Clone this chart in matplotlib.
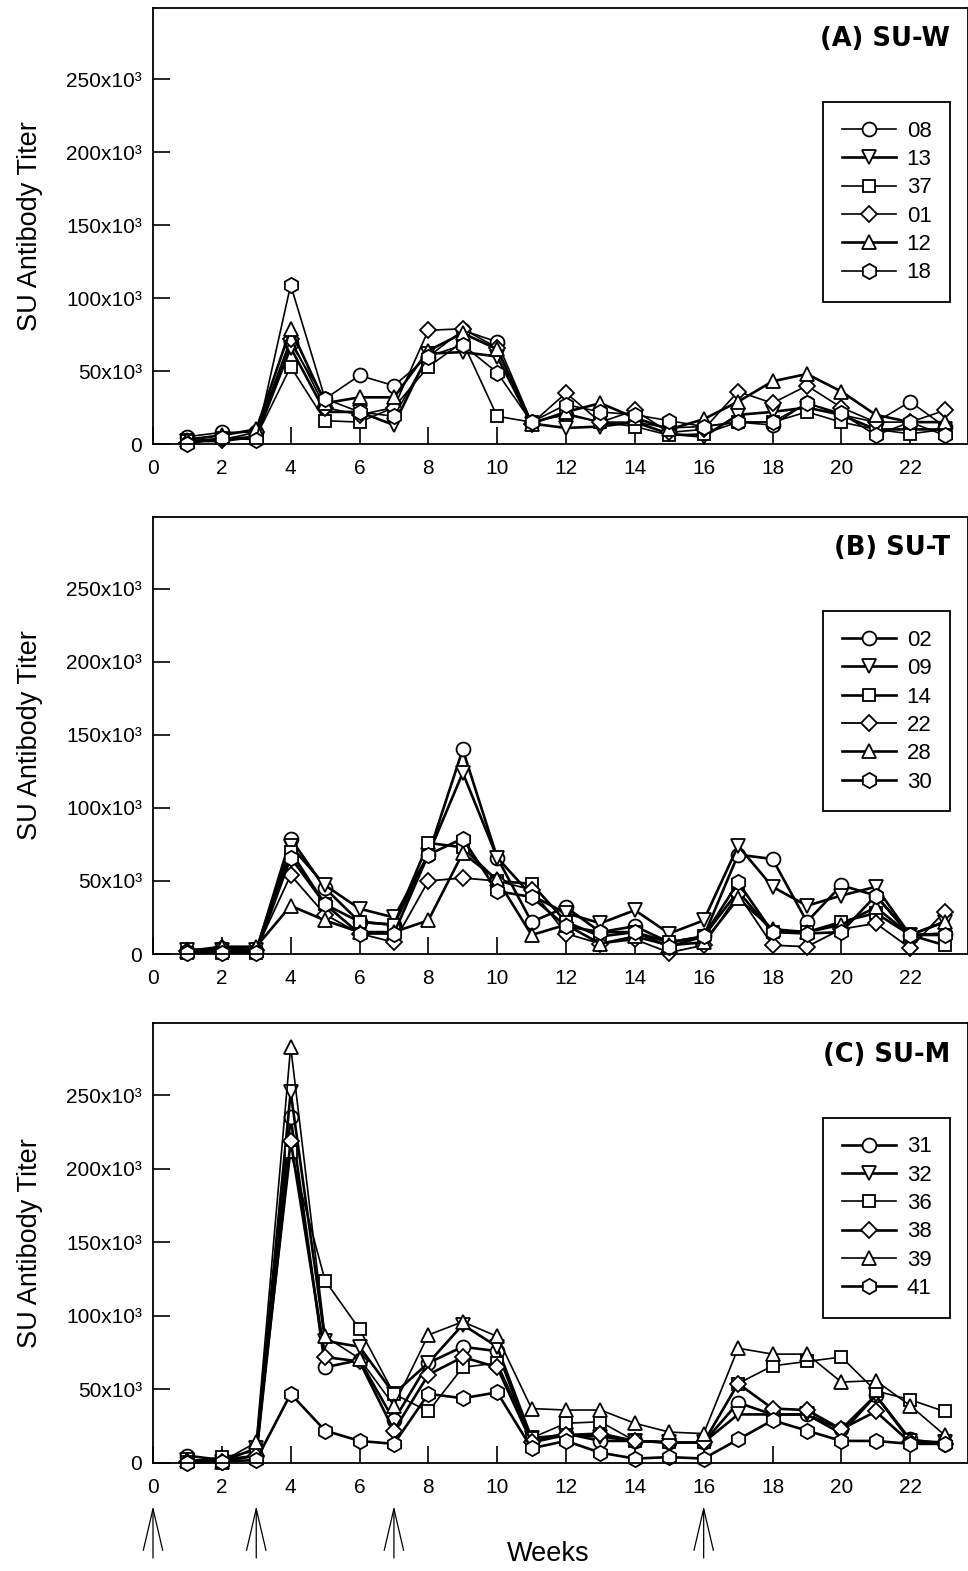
import matplotlib
matplotlib.use('Agg')
import matplotlib.pyplot as plt

# ---------------- data (titer values in units of 10^3) ----------------
weeks = list(range(1, 24))
injection_weeks = [0, 3, 7, 16]
xticks = list(range(0, 23, 2))
yticks = [0, 50, 100, 150, 200, 250]
ytick_labels = ['0', '50x10³', '100x10³', '150x10³', '200x10³', '250x10³']

titleA = '(A) SU-W'
labelsA = ['08', '13', '37', '01', '12', '18']
A_08 = [5, 8, 8, 69, 31, 47, 40, 60, 78, 70, 15, 20, 15, 15, 11, 12, 15, 13, 28, 20, 15, 29, 12]
A_13 = [2, 2, 5, 66, 22, 22, 13, 62, 63, 60, 14, 11, 12, 15, 7, 5, 20, 22, 25, 20, 10, 10, 10]
A_37 = [2, 4, 5, 53, 16, 15, 25, 53, 70, 19, 15, 21, 15, 12, 6, 7, 15, 15, 22, 15, 10, 7, 10]
A_01 = [1, 3, 8, 72, 25, 20, 25, 78, 79, 66, 14, 35, 15, 23, 8, 10, 36, 28, 40, 25, 15, 15, 23]
A_12 = [3, 6, 10, 79, 28, 32, 32, 64, 76, 65, 14, 22, 28, 18, 10, 17, 29, 43, 48, 36, 20, 15, 15]
A_18 = [0, 4, 3, 109, 31, 22, 19, 60, 68, 49, 15, 27, 22, 20, 16, 12, 15, 15, 28, 21, 6, 15, 6]

titleB = '(B) SU-T'
labelsB = ['02', '09', '14', '22', '28', '30']
B_02 = [2, 2, 2, 79, 45, 22, 20, 68, 140, 66, 22, 32, 15, 19, 8, 12, 68, 65, 22, 47, 40, 13, 14]
B_09 = [3, 3, 3, 74, 47, 31, 25, 68, 124, 66, 40, 28, 21, 30, 14, 23, 74, 46, 33, 40, 46, 13, 22]
B_14 = [1, 1, 1, 70, 34, 22, 20, 76, 73, 50, 48, 22, 12, 15, 8, 12, 43, 15, 15, 22, 28, 13, 6]
B_22 = [2, 4, 3, 54, 27, 14, 8, 50, 52, 50, 44, 14, 7, 10, 1, 6, 41, 6, 5, 17, 21, 4, 29]
B_28 = [2, 5, 5, 33, 23, 15, 15, 23, 69, 51, 13, 20, 7, 12, 6, 8, 38, 17, 15, 20, 32, 13, 22]
B_30 = [1, 1, 1, 66, 34, 14, 14, 68, 79, 43, 39, 19, 15, 15, 5, 12, 49, 15, 14, 15, 40, 13, 13]

titleC = '(C) SU-M'
labelsC = ['31', '32', '36', '38', '39', '41']
C_31 = [5, 2, 5, 235, 65, 70, 29, 68, 79, 76, 15, 20, 15, 15, 14, 14, 41, 33, 33, 23, 46, 16, 13]
C_32 = [2, 1, 10, 252, 83, 79, 47, 68, 94, 79, 17, 19, 18, 15, 14, 14, 33, 33, 33, 20, 46, 15, 14]
C_36 = [1, 4, 8, 211, 124, 91, 47, 35, 65, 68, 17, 27, 28, 15, 14, 14, 54, 66, 69, 72, 49, 43, 35]
C_38 = [1, 1, 5, 219, 72, 69, 22, 60, 72, 65, 14, 19, 20, 15, 14, 14, 54, 37, 36, 23, 35, 14, 13]
C_39 = [2, 1, 14, 283, 86, 71, 39, 87, 96, 86, 37, 36, 36, 27, 21, 20, 78, 74, 74, 55, 56, 39, 19]
C_41 = [0, 1, 2, 47, 22, 15, 13, 47, 44, 48, 10, 15, 7, 3, 4, 3, 16, 29, 22, 15, 15, 13, 13]

# ---------------- styles ----------------
markers = ['o', 'v', 's', 'D', '^', 'h']
msizes = [10, 10, 9, 8.5, 10, 11]
lwA = [1.2, 1.9, 1.2, 1.2, 1.9, 1.2]
lwB = [1.9, 1.9, 1.9, 1.3, 1.9, 1.9]
lwC = [1.9, 1.9, 1.2, 1.9, 1.2, 1.9]

plt.rcParams['font.family'] = ['Liberation Sans', 'DejaVu Sans']

fig = plt.figure(figsize=(9.68, 15.71), dpi=100)
W, H = 968.0, 1571.0
left = 153 / W
width = 815 / W
axes_px = [(8, 444), (517, 954), (1023, 1463)]

panels = [
    (titleA, labelsA, [A_08, A_13, A_37, A_01, A_12, A_18], lwA),
    (titleB, labelsB, [B_02, B_09, B_14, B_22, B_28, B_30], lwB),
    (titleC, labelsC, [C_31, C_32, C_36, C_38, C_39, C_41], lwC),
]

axes = []
for (top, bot), (title, labels, series, lws) in zip(axes_px, panels):
    ax = fig.add_axes([left, 1 - bot / H, width, (bot - top) / H])
    axes.append(ax)
    for vals, lab, mk, ms, lw in zip(series, labels, markers, msizes, lws):
        ax.plot(weeks, [v * 1000 for v in vals], color='black', lw=lw,
                marker=mk, ms=ms, mfc='white', mec='black', mew=1.3,
                label=lab, clip_on=False)
    ax.set_xlim(0, 23.68)
    ax.set_ylim(0, 299000)
    ax.set_xticks(xticks)
    ax.set_xticklabels([str(t) for t in xticks])
    ax.set_yticks([t * 1000 for t in yticks])
    ax.set_yticklabels(ytick_labels)
    ax.tick_params(axis='both', direction='in', length=12, width=1.2,
                   labelsize=15, top=False, right=False)
    ax.tick_params(axis='x', pad=11)
    ax.tick_params(axis='y', pad=8)
    for sp in ax.spines.values():
        sp.set_linewidth(1.3)
    ax.set_ylabel('SU Antibody Titer', fontsize=19.5)
    ax.yaxis.set_label_coords(-0.135, 0.5)
    ax.text(0.978, 0.928, title, transform=ax.transAxes, ha='right',
            va='center', fontsize=18.5, fontweight='bold',
            family=['DejaVu Sans'])
    leg = ax.legend(loc='upper right', bbox_to_anchor=(0.9785, 0.785),
                    fontsize=16, frameon=True, fancybox=False,
                    edgecolor='black', framealpha=1, handlelength=2.4,
                    handletextpad=0.5, borderpad=0.85, labelspacing=0.33,
                    borderaxespad=0)
    leg.get_frame().set_linewidth(1.3)

axC = axes[-1]
for wk in injection_weeks:
    axC.annotate('', xy=(wk, 1 - 1506 / H), xytext=(wk, 1 - 1558 / H),
                 xycoords=('data', 'figure fraction'),
                 textcoords=('data', 'figure fraction'),
                 annotation_clip=False,
                 arrowprops=dict(arrowstyle='->,head_length=3.0,head_width=0.7',
                                 mutation_scale=10, lw=0.9, color='black',
                                 shrinkA=0, shrinkB=0))

fig.text(548 / W, 1 - 1554 / H, 'Weeks', ha='center', va='center', fontsize=19.5)

fig.savefig('out.png', dpi=100)
